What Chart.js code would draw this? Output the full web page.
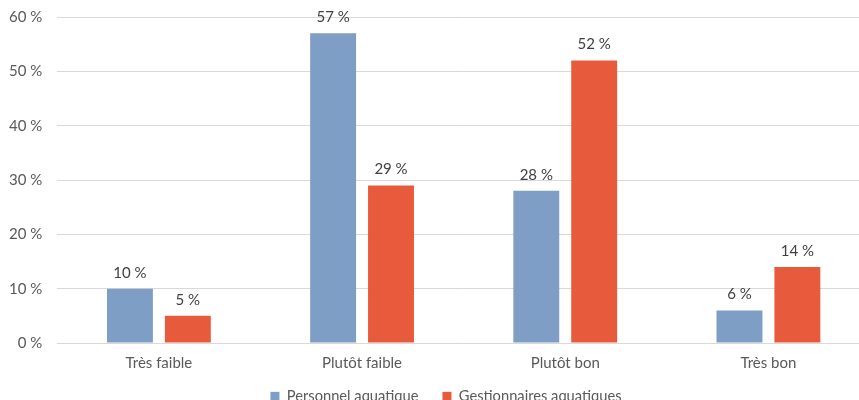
<!DOCTYPE html>
<html>
<head>
<meta charset="utf-8">
<script src="https://cdn.jsdelivr.net/npm/chart.js@4/dist/chart.umd.min.js"></script>
<style>
html,body{margin:0;padding:0;background:#fff;overflow:hidden;width:859px;height:400px;}
#wrap{position:relative;width:880px;height:412px;}
</style>
</head>
<body>
<div id="wrap"><canvas id="c"></canvas></div>
<script>
const categories = ["Très faible", "Plutôt faible", "Plutôt bon", "Très bon"];
const seriesNames = ["Personnel aquatique", "Gestionnaires aquatiques"];
const personnel = [10, 57, 28, 6];
const gestionnaires = [5, 29, 52, 14];
const yTicks = [0, 10, 20, 30, 40, 50, 60];

const FONT = "Lato, 'Open Sans', sans-serif";
const TXT = "#595959";

const dataLabels = {
  id: 'dataLabels',
  afterDatasetsDraw(chart) {
    const ctx = chart.ctx;
    ctx.save();
    ctx.font = "15px " + FONT;
    ctx.fillStyle = "#404040";
    ctx.textAlign = "center";
    ctx.textBaseline = "alphabetic";
    chart.data.datasets.forEach((ds, i) => {
      const meta = chart.getDatasetMeta(i);
      meta.data.forEach((el, j) => {
        ctx.fillText(ds.data[j] + " %", el.x, el.y - 11);
      });
    });
    ctx.restore();
  }
};

// nudge the legend box (layout only)
const legendPlace = {
  id: 'legendPlace',
  afterLayout(chart) {
    const l = chart.legend;
    if (!l) return;
    l.left += 11; l.right += 11;
    l.top -= 8; l.bottom -= 8;
  }
};

new Chart(document.getElementById('c'), {
  type: 'bar',
  data: {
    labels: categories,
    datasets: [
      { label: seriesNames[0], data: personnel, backgroundColor: "#7F9EC5",
        categoryPercentage: 0.57, barPercentage: 0.793 },
      { label: seriesNames[1], data: gestionnaires, backgroundColor: "#E85A3C",
        categoryPercentage: 0.57, barPercentage: 0.793 }
    ]
  },
  plugins: [dataLabels, legendPlace],
  options: {
    responsive: true,
    maintainAspectRatio: false,
    animation: false,
    layout: { padding: { top: 17, right: 10, left: 0, bottom: 0 } },
    plugins: {
      legend: {
        position: 'bottom',
        maxHeight: 39,
        labels: { boxWidth: 9, boxHeight: 9, padding: 24, color: TXT,
                  font: { family: FONT, size: 14.7 } }
      },
      tooltip: { enabled: false }
    },
    scales: {
      x: {
        grid: { display: false, drawTicks: false },
        border: { display: false },
        ticks: { color: TXT, font: { family: FONT, size: 15 }, padding: 11, maxRotation: 0 },
        afterFit(s) { s.height = 30; s.paddingLeft = 0; s.paddingRight = 0; }
      },
      y: {
        min: 0, max: 60,
        afterBuildTicks(s) { s.ticks = yTicks.map(v => ({ value: v })); },
        grid: { color: "#D9D9D9", drawTicks: false },
        border: { display: false },
        ticks: { color: TXT, font: { family: FONT, size: 15 }, padding: 15,
                 callback: v => v + " %" },
        afterFit(s) { s.width = 57.3; s.paddingTop = 0; s.paddingBottom = 0; }
      }
    }
  }
});
</script>
</body>
</html>
